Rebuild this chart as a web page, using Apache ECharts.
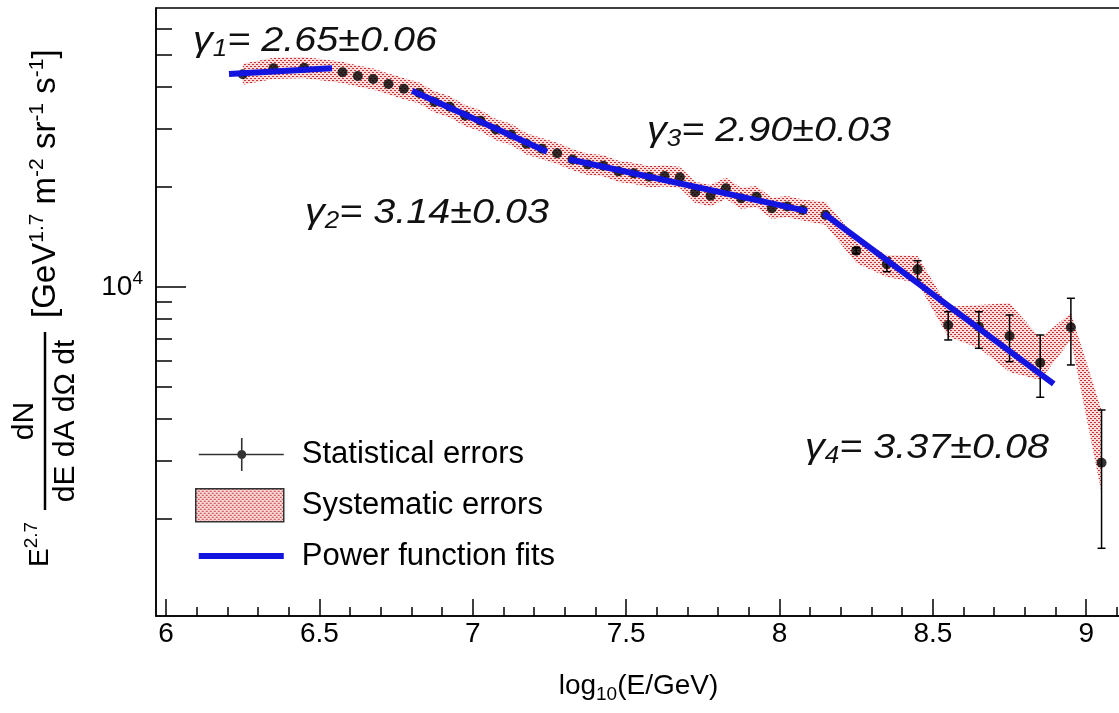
<!DOCTYPE html>
<html><head><meta charset="utf-8">
<script src="https://cdn.jsdelivr.net/npm/echarts@6/dist/echarts.min.js"></script>
<style>html,body{margin:0;padding:0;background:#fff}#c{width:1119px;height:713px}</style>
</head><body><div id="c"></div>
<script>
// log10(E/GeV) bin centres
const energy = [6.25,6.35,6.45,6.575,6.625,6.675,6.725,6.775,6.825,6.875,6.925,6.975,7.025,7.075,7.125,7.175,7.225,7.275,7.325,7.375,7.425,7.475,7.525,7.575,7.625,7.675,7.725,7.775,7.825,7.875,7.925,7.975,8.025,8.075,8.15,8.25,8.35,8.45,8.55,8.65,8.75,8.85,8.95,9.05];
// E^2.7 flux
const flux = [43730,45580,45770,44330,43200,42310,40870,39560,38400,36100,34900,32800,31700,29800,28800,27000,26100,25270,24200,23400,23200,22300,21990,21490,21600,21400,19290,18840,19830,18500,18710,17260,17470,17060,16480,12860,11730,11300,7685,7595,7119,5916,7564,2957];
// systematic band
const sysUpper = [47070,49060,49270,47720,46500,45540,43990,42580,41330,38860,37570,35310,34120,32080,31000,29060,28090,27200,26050,25190,24970,24000,23670,23130,23250,23040,20760,20280,21350,19910,20140,18580,18800,18360,18070,14050,12490,12400,8724,8828,8950,7021,8350,4261];
const sysLower = [40630,42340,42520,41180,40130,39310,37970,36750,35670,33540,32420,30470,29450,27680,26760,25080,24250,23480,22480,21740,21550,20720,20430,19960,20070,19880,17920,17500,18420,17190,17380,16040,16230,15850,15370,11810,10720,10280,7085,6551,5546,5248,6925,2396];
// statistical error bars (visible ones)
const errEnergy = [8.25,8.35,8.45,8.55,8.65,8.75,8.85,8.95,9.05];
const errLow = [12600,11120,10500,6925,6537,5957,4654,5823,1633];
const errHigh = [13130,12230,12000,8425,8425,8236,7168,9247,4261];
// power-law fit segments
const fitEnergy = [[6.205,6.541],[6.802,7.242],[7.313,8.09],[8.144,8.894]];
const fitFlux = [[43820,45580],[39020,25560],[24250,16930],[16670,5104]];
const gammaLabels = [['1','2.65±0.06'],['2','3.14±0.03'],['3','2.90±0.03'],['4','3.37±0.08']];
// axis ticks
const xMajor = [6,6.5,7,7.5,8,8.5,9];
const xMinor = [6.1,6.2,6.3,6.4,6.6,6.7,6.8,6.9,7.1,7.2,7.3,7.4,7.6,7.7,7.8,7.9,8.1,8.2,8.3,8.4,8.6,8.7,8.8,8.9,9.1];
const yMajor = [10000];
const yMinor = [2000,3000,4000,5000,6000,7000,8000,9000,20000,30000,40000,50000,60000];

const FONT = "'Liberation Sans', Arial, Helvetica, sans-serif";
const X_MIN = 5.967, X_MAX = 9.1134, Y_MIN = 1021, Y_MAX = 69230;

function makePattern(){
  const c = document.createElement('canvas'); c.width = 4; c.height = 4;
  const g = c.getContext('2d');
  g.fillStyle = '#fadcdc'; g.fillRect(0,0,4,4);
  g.fillStyle = '#c83434'; g.fillRect(0,0,2,1); g.fillRect(2,2,2,1);
  return c;
}
const pattern = {image: makePattern(), repeat: 'repeat'};

const chart = echarts.init(document.getElementById('c'), null, {renderer: 'canvas'});

const series = [];
series.push({
  name: 'Systematic errors', type: 'custom', z: 1,
  xAxisIndex: 0, yAxisIndex: 0,
  itemStyle: {color: pattern},
  data: [[energy[0], flux[0]]],
  renderItem: function(params, api){
    if (params.dataIndex !== 0) return;
    const pts = [];
    for (let i = 0; i < energy.length; i++) pts.push(api.coord([energy[i], sysUpper[i]]));
    for (let i = energy.length - 1; i >= 0; i--) pts.push(api.coord([energy[i], sysLower[i]]));
    return {type: 'polygon', shape: {points: pts}, style: {fill: pattern}, silent: true};
  }
});
series.push({
  name: 'Statistical errors', type: 'scatter', z: 2,
  symbol: 'circle', symbolSize: 10,
  itemStyle: {color: '#000'},
  data: energy.map((e, i) => [e, flux[i]])
});
series.push({
  name: 'Statistical errors', type: 'custom', z: 3,
  itemStyle: {color: '#000'},
  data: errEnergy.map((e, i) => [e, errLow[i], errHigh[i]]),
  encode: {x: 0, y: [1, 2]},
  renderItem: function(params, api){
    const lo = api.coord([api.value(0), api.value(1)]);
    const hi = api.coord([api.value(0), api.value(2)]);
    const st = {stroke: '#000', lineWidth: 1.5};
    return {type: 'group', children: [
      {type: 'line', shape: {x1: lo[0], y1: lo[1], x2: hi[0], y2: hi[1]}, style: st},
      {type: 'line', shape: {x1: lo[0]-4, y1: lo[1], x2: lo[0]+4, y2: lo[1]}, style: st},
      {type: 'line', shape: {x1: hi[0]-4, y1: hi[1], x2: hi[0]+4, y2: hi[1]}, style: st}
    ]};
  }
});
fitEnergy.forEach((seg, k) => {
  series.push({
    name: 'Power function fits', type: 'line', z: 4,
    showSymbol: false, symbol: 'none',
    itemStyle: {color: '#1414e0'},
    lineStyle: {color: '#1414e0', width: 6},
    data: [[seg[0], fitFlux[k][0]], [seg[1], fitFlux[k][1]]]
  });
});

const BOX = 'M0,0L0.01,0L0,0.01Z M88,33L87.99,33L88,32.99Z ';
const gammaPos = [[193, 41], [305, 213], [647, 131], [805, 448]];

const option = {
  animation: false,
  backgroundColor: '#fff',
  grid: {left: 156, right: -2, top: 8, bottom: 97, show: true, borderColor: '#000', borderWidth: 1.5,
         containLabel: false, outerBoundsMode: 'none'},
  xAxis: [
    {type: 'value', min: X_MIN, max: X_MAX, position: 'bottom',
     name: '{m|log}{s|10}{m|(E/GeV)}', nameLocation: 'middle', nameGap: 53,
     nameTextStyle: {fontFamily: FONT, color: '#000', rich: {m: {fontSize: 28, fontFamily: FONT, color: '#000'}, s: {fontSize: 19, fontFamily: FONT, color: '#000', padding: [16, 0, 0, 0]}}},
     axisLine: {show: true, onZero: false, lineStyle: {color: '#000', width: 1.5}},
     axisTick: {show: true, inside: true, length: 17, customValues: xMajor, lineStyle: {color: '#000', width: 1.5}},
     axisLabel: {show: true, customValues: xMajor, margin: 4, fontSize: 28, fontFamily: FONT, color: '#000'},
     splitLine: {show: false}},
    {type: 'value', min: X_MIN, max: X_MAX, position: 'bottom',
     axisLine: {show: false},
     axisTick: {show: true, inside: true, length: 9, customValues: xMinor, lineStyle: {color: '#000', width: 1.5}},
     axisLabel: {show: false}, splitLine: {show: false}}
  ],
  yAxis: [
    {type: 'log', min: Y_MIN, max: Y_MAX, position: 'left',
     axisLine: {show: true, onZero: false, lineStyle: {color: '#000', width: 1.5}},
     axisTick: {show: true, inside: true, length: 30, customValues: yMajor, lineStyle: {color: '#000', width: 1.5}},
     axisLabel: {show: true, customValues: yMajor, margin: 13, formatter: () => '{a|10}{s|4}',
       rich: {a: {fontSize: 28, fontFamily: FONT, color: '#000'}, s: {fontSize: 19, fontFamily: FONT, color: '#000', padding: [0, 0, 16, 0]}}},
     splitLine: {show: false}},
    {type: 'log', min: Y_MIN, max: Y_MAX, position: 'left',
     axisLine: {show: false},
     axisTick: {show: true, inside: true, length: 16, customValues: yMinor, lineStyle: {color: '#000', width: 1.5}},
     axisLabel: {show: false}, splitLine: {show: false}}
  ],
  legend: {
    orient: 'vertical', left: 195, top: 438, padding: 0, itemWidth: 88, itemHeight: 33, itemGap: 17,
    selectedMode: false, symbolKeepAspect: true,
    textStyle: {fontSize: 31, fontFamily: FONT, color: '#000', lineHeight: 33, padding: [0, 0, 0, 13]},
    data: [
      {name: 'Statistical errors', icon: 'path://' + BOX + 'M3,15.7H88V17.3H3Z M45.2,0H46.8V33H45.2Z M50.5,16.5A4.5,4.5,0,1,1,41.5,16.5A4.5,4.5,0,1,1,50.5,16.5Z', itemStyle: {color: '#000'}},
      {name: 'Systematic errors', icon: 'rect', itemStyle: {color: pattern, borderColor: '#333', borderWidth: 1.5}},
      {name: 'Power function fits', icon: 'path://' + BOX + 'M3,13.5H88V19.5H3Z', itemStyle: {color: '#1414e0'}}
    ]
  },
  graphic: [
    ...gammaLabels.map((g, i) => ({
      type: 'text', x: gammaPos[i][0], y: gammaPos[i][1], scaleX: 1.13, z: 10,
      style: {text: '{g|γ}{s|' + g[0] + '}{g|= ' + g[1] + '}', textAlign: 'left', textVerticalAlign: 'middle',
        rich: {g: {fontSize: 35, fontStyle: 'italic', fontFamily: FONT, fill: '#111'}, s: {fontSize: 23, fontStyle: 'italic', fontFamily: FONT, fill: '#111', padding: [18, 0, 0, 0]}}}
    })),
    {type: 'group', x: 0, y: 600, rotation: Math.PI / 2, z: 10, children: [
      {type: 'text', x: 33, y: 40, style: {text: '{b|E}{s|2.7}', textAlign: 'left', textVerticalAlign: 'middle',
        rich: {b: {fontSize: 28, fontFamily: FONT, fill: '#000'}, s: {fontSize: 19, fontFamily: FONT, fill: '#000', padding: [0, 0, 16, 0]}}}},
      {type: 'line', shape: {x1: 90, y1: 45, x2: 268, y2: 45}, style: {stroke: '#000', lineWidth: 2.5}},
      {type: 'text', x: 179, y: 25, style: {text: 'dN', fontSize: 30, fontFamily: FONT, fill: '#000', textAlign: 'center', textVerticalAlign: 'middle'}},
      {type: 'text', x: 179, y: 66, style: {text: 'dE dA dΩ dt', fontSize: 30, fontFamily: FONT, fill: '#000', textAlign: 'center', textVerticalAlign: 'middle'}},
      {type: 'text', x: 282, y: 46, style: {text: '{b|[GeV}{s|1.7}{b| m}{s|-2}{b| sr}{s|-1}{b| s}{s|-1}{b|]}', textAlign: 'left', textVerticalAlign: 'middle',
        rich: {b: {fontSize: 33, fontFamily: FONT, fill: '#000'}, s: {fontSize: 21, fontFamily: FONT, fill: '#000', padding: [0, 0, 18, 0]}}}}
    ]}
  ],
  series: series
};
chart.setOption(option);
</script>
</body></html>
